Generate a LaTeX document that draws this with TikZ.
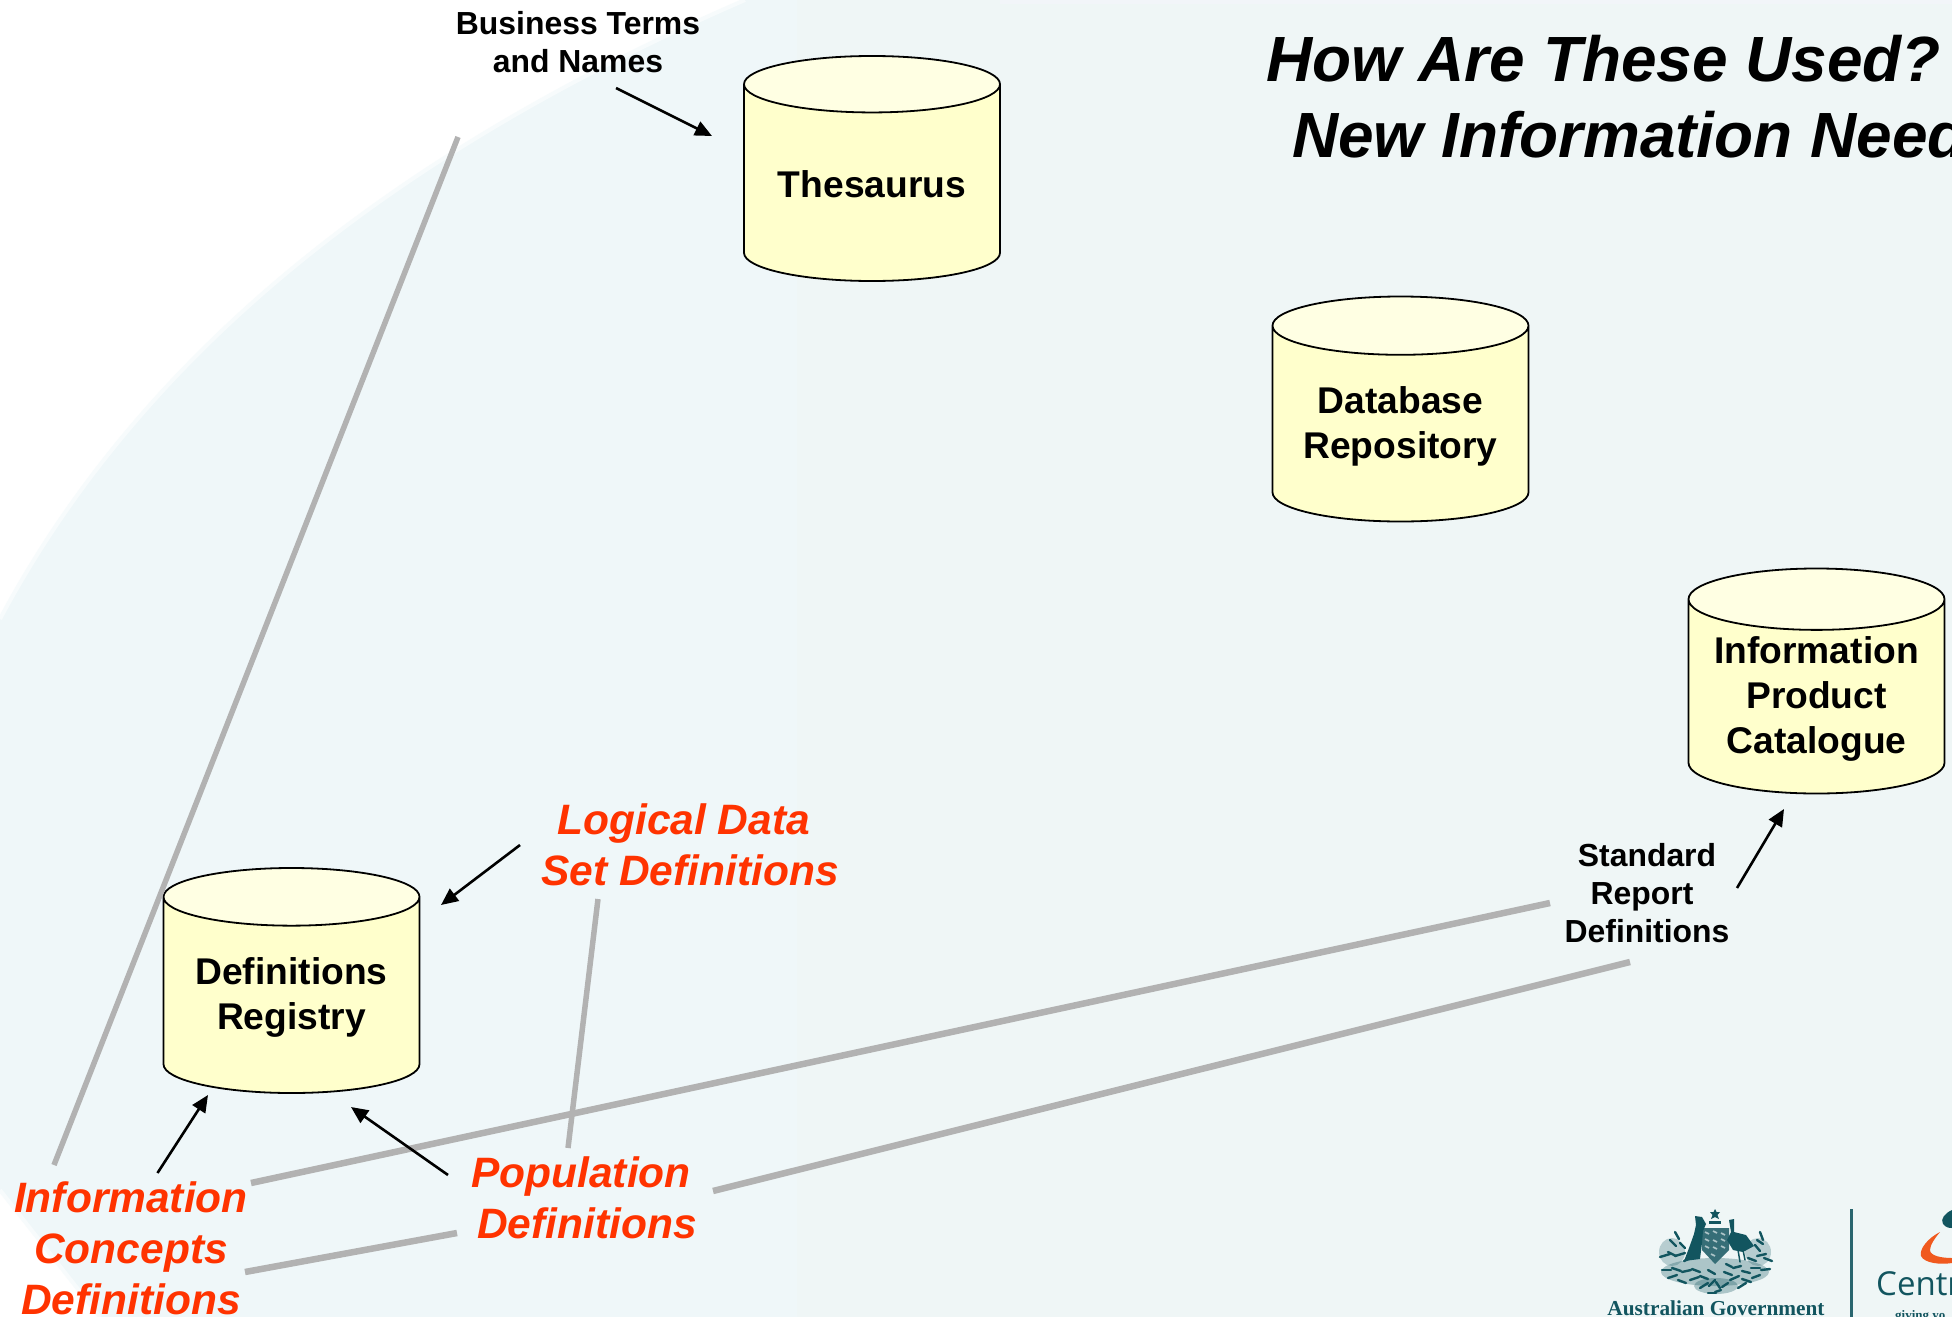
\documentclass[tikz,border=0pt]{standalone}
\usepackage{fontspec}
\setmainfont{Liberation Sans}
\newfontfamily\logoserif{Liberation Serif}
\newfontfamily\logosans{Open Sans}
\usetikzlibrary{shapes.geometric,arrows.meta}
\newcommand{\cylline}[2][2.5pt]{\raisebox{-#1}[\height][\depth]{#2}}
\definecolor{bgleft}{HTML}{EFF7F9}
\definecolor{bgright}{HTML}{EFF6F6}
\definecolor{bgtop}{HTML}{F2F5F9}
\definecolor{cylbody}{HTML}{FFFFCC}
\definecolor{cyltop}{HTML}{FFFFE3}
\definecolor{redtext}{HTML}{FF3300}
\definecolor{rule}{HTML}{B2B2B2}
\definecolor{logoteal}{HTML}{12555F}
\definecolor{logoorange}{HTML}{F0591E}
\tikzset{
  dbcyl/.style={cylinder,shape border rotate=90,aspect=0.3,draw=black,line width=1.8pt,
    minimum width=256pt,minimum height=225pt,cylinder uses custom fill,
    cylinder body fill=cylbody,cylinder end fill=cyltop,anchor=shape center,inner sep=0pt,
    font=\fontsize{37.2}{45}\selectfont\bfseries,align=center},
  smalllabel/.style={inner sep=0pt,align=center,font=\fontsize{31.9}{38}\selectfont\bfseries},
  redlabel/.style={inner sep=0pt,align=center,text=redtext,font=\fontsize{42.5}{51}\selectfont\bfseries\itshape},
  titletext/.style={inner sep=0pt,anchor=base west,font=\fontsize{63.9}{77}\selectfont\bfseries\itshape},
  thickrule/.style={draw=rule,line width=6.5pt},
  thinrule/.style={draw=rule,line width=5.5pt},
  callout/.style={draw=black,line width=2.6pt,-{Triangle[length=17pt,width=15pt]}},
  leaf/.style={draw=logoteal,line width=2.4pt,line cap=round},
  softedge/.style={draw=bgleft!50!white,line width=4pt},
}
\begin{document}
\begin{tikzpicture}[x=1pt,y=-1pt]
\useasboundingbox (0,0) rectangle (1952,1317);
\clip (0,0) rectangle (1952,1317);
% background
\fill[white] (0,0) rectangle (1952,1317);
\fill[bgleft] (745,0) .. controls (480,115) and (170,300) .. (0,619)
   -- (0,1190) -- (100,1317) -- (1952,1317) -- (1952,0) -- cycle;
\draw[softedge] (745,0) .. controls (480,115) and (170,300) .. (0,619);
\draw[softedge] (0,1190) -- (100,1317);
\fill[bgright] (797,0) rectangle (1952,1317);
\fill[bgtop] (1000,0) rectangle (1952,4);
% cylinders
\node[dbcyl] (thes) at (872,168.5) {\cylline[1.2pt]{Thesaurus}};
\node[dbcyl] (repo) at (1400.5,409) {\cylline{Database}\\\cylline{Repository}};
\node[dbcyl] (cat) at (1816.5,681) {\cylline{Information}\\\cylline{Product}\\\cylline{Catalogue}};
\node[dbcyl] (reg) at (291.5,980.5) {\cylline{Definitions}\\\cylline{Registry}};
% labels
\node[smalllabel] (bt) at (578,42) {Business Terms\\and Names};
\node[smalllabel] (sr) at (1647,893) {Standard\\Report\rule{10pt}{0pt}\\Definitions};
\node[redlabel] (ld) at (690,845) {Logical Data\rule{12.5pt}{0pt}\\Set Definitions};
\node[redlabel] (pd) at (587,1198) {Population\rule{12pt}{0pt}\\Definitions};
\node[redlabel] (ic) at (131,1248) {Information\\Concepts\\Definitions};
\node[titletext] (t1) at (1266,81) {How Are These Used?};
\node[titletext] (t2) at (1292,157) {New Information Need};
% free ends of the connectors
\coordinate (a1s) at (616,88);   \coordinate (a1e) at (712,136);
\coordinate (a2s) at (520,845);  \coordinate (a2e) at (441,905);
\coordinate (a3s) at (157.5,1173); \coordinate (a3e) at (208,1095);
\coordinate (a4s) at (448,1175); \coordinate (a4e) at (351,1107);
\coordinate (a5s) at (1737,888); \coordinate (a5e) at (1784,809);
\coordinate (l1s) at (458,137);  \coordinate (l1e) at (54,1165);
\coordinate (l2s) at (598,899);  \coordinate (l2e) at (568,1148);
\coordinate (l3s) at (251,1183); \coordinate (l3e) at (1550,903);
\coordinate (l4s) at (245,1272); \coordinate (l4e) at (457,1233);
\coordinate (l5s) at (713,1191); \coordinate (l5e) at (1630,962);
% grey rules
\draw[thinrule] (l1s) -- (l1e);
\draw[thinrule] (l2s) -- (l2e);
\draw[thickrule] (l3s) -- (l3e);
\draw[thickrule] (l4s) -- (l4e);
\draw[thickrule] (l5s) -- (l5e);
% arrows
\draw[callout] (a1s) -- (a1e);
\draw[callout] (a2s) -- (a2e);
\draw[callout] (a3s) -- (a3e);
\draw[callout] (a4s) -- (a4e);
\draw[callout] (a5s) -- (a5e);
% logo: coat of arms
\fill[logoteal,opacity=.25] (1672,1252) ellipse (13 and 14);
\fill[logoteal,opacity=.25] (1758,1252) ellipse (13 and 14);
\fill[logoteal,opacity=.3] (1715,1272) ellipse (54 and 14);
\fill[logoteal,opacity=.3] (1716,1286) ellipse (22 and 8);
\fill[logoteal] (1715,1209) -- (1716.5,1212) -- (1720,1212) -- (1717.5,1215) -- (1719,1219) -- (1715,1217) -- (1711,1219) -- (1712.5,1215) -- (1710,1212) -- (1713.5,1212) -- cycle;
\fill[logoteal] (1709,1221) rectangle (1721,1224);
% shield
\fill[logoteal!85!white] (1702,1228) -- (1729,1228) -- (1729,1250) -- (1715,1264) -- (1702,1250) -- cycle;
\foreach \x/\y in {1705/1232,1713/1231,1721/1233,1705/1239,1713/1240,1721/1239,1705/1246,1713/1247,1721/1246,1711/1254}
  \draw[white!65!logoteal,line width=1.6pt] (\x,\y) -- ++(4,2);
% kangaroo
\fill[logoteal] (1695,1216) -- (1702,1217) -- (1706,1224) -- (1703,1231) -- (1702,1243) -- (1700,1259) -- (1692,1260) -- (1684,1261) -- (1689,1248) -- (1694,1234) -- (1696,1225) -- cycle;
% emu
\fill[logoteal] (1729,1220) -- (1734,1219) -- (1734,1232) -- (1746,1235) -- (1754,1246) -- (1743,1252) -- (1733,1250) -- (1727,1240) -- (1731,1232) -- cycle;
\draw[leaf,line width=1.5pt] (1738,1250) -- (1740,1262) (1743,1250) -- (1745,1260);
% wattle
\foreach \x/\y/\dx/\dy in {
  1660/1257/10/-3,1668/1252/8/4,1675/1256/10/-3,1684/1261/9/-4,1670/1240/6/6,1675/1232/4/7,1680/1243/5/5,
  1662/1270/9/0,1672/1268/9/3,1682/1272/9/-2,1692/1269/8/3,1668/1278/9/-3,1678/1280/8/3,1690/1280/9/-3,
  1700/1276/8/3,1708/1270/7/4,1700/1288/8/-5,1709/1286/6/-6,1716/1282/4/6,1722/1287/6/-4,1715/1292/6/-2,1708/1293/8/0,
  1724/1272/8/3,1733/1268/8/-2,1742/1271/8/2,1751/1268/9/0,1761/1270/9/-1,1730/1280/9/-4,1742/1279/9/3,1752/1278/8/-3,
  1738/1288/8/-5,1726/1264/6/3,1748/1258/8/3,1757/1256/9/-2,1764/1258/8/3,1755/1245/5/6,1760/1232/3/8,1757/1240/6/4
}
  \draw[leaf] (\x,\y) -- ++(\dx,\dy);
\node[inner sep=0pt,anchor=base,text=logoteal,font=\fontsize{21.3}{25}\selectfont\logoserif\bfseries] (ag) at (1716,1315) {Australian Government};
% logo: divider and Centrelink
\coordinate (bart) at (1851,1209); \coordinate (barb) at (1851,1317);
\draw[draw=logoteal!90!white,line width=3pt] (bart) -- (barb);
\fill[logoteal] (1952,1210) .. controls (1945,1213) and (1940,1219) .. (1943,1224) .. controls (1946,1228) and (1950,1228) .. (1952,1228) -- cycle;
\fill[logoorange] (1940,1232) .. controls (1928,1238) and (1919,1249) .. (1921,1256) .. controls (1924,1263) and (1940,1265) .. (1952,1263) -- (1952,1258) .. controls (1942,1258) and (1930,1256) .. (1930,1250) .. controls (1930,1245) and (1935,1238) .. (1940,1232) -- cycle;
\node[inner sep=0pt,anchor=base west,text=logoteal,font=\fontsize{33}{38}\selectfont\logosans] (cl) at (1876,1295) {Centr};
\node[inner sep=0pt,anchor=base west,text=logoteal,font=\fontsize{13}{15}\selectfont\logoserif\bfseries] (gy) at (1895,1319) {giving yo};
\end{tikzpicture}
\end{document}
